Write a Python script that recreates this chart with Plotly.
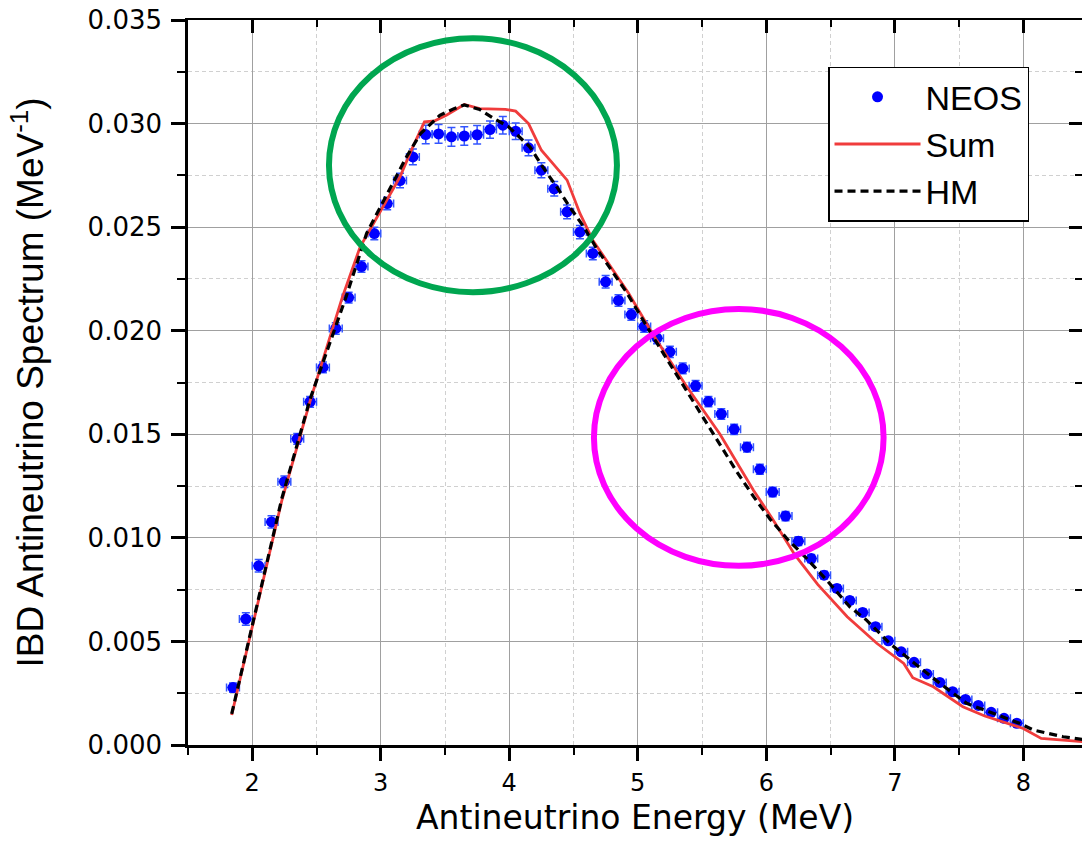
import plotly.graph_objects as go

# ---------------- data ----------------
neos_e = [1.85, 1.95, 2.05, 2.15, 2.25, 2.35, 2.45, 2.55, 2.65, 2.75,
          2.85, 2.95, 3.05, 3.15, 3.25, 3.35, 3.45, 3.55, 3.65, 3.75,
          3.85, 3.95, 4.05, 4.15, 4.25, 4.35, 4.45, 4.55, 4.65, 4.75,
          4.85, 4.95, 5.05, 5.15, 5.25, 5.35, 5.45, 5.55, 5.65, 5.75,
          5.85, 5.95, 6.05, 6.15, 6.25, 6.35, 6.45, 6.55, 6.65, 6.75,
          6.85, 6.95, 7.05, 7.15, 7.25, 7.35, 7.45, 7.55, 7.65, 7.75,
          7.85, 7.95]
neos_y = [0.00277, 0.00608, 0.00865, 0.01077, 0.01271, 0.01478, 0.01657, 0.01823, 0.02011, 0.02160,
          0.02310, 0.02469, 0.02614, 0.02725, 0.02839, 0.02947, 0.02950, 0.02936, 0.02940, 0.02946,
          0.02971, 0.02992, 0.02963, 0.02883, 0.02775, 0.02685, 0.02574, 0.02476, 0.02373, 0.02236,
          0.02146, 0.02078, 0.02020, 0.01964, 0.01898, 0.01818, 0.01734, 0.01658, 0.01598, 0.01524,
          0.01438, 0.01331, 0.01221, 0.01105, 0.00984, 0.00900, 0.00820, 0.00756, 0.00697, 0.00640,
          0.00571, 0.00503, 0.00450, 0.00399, 0.00343, 0.00302, 0.00257, 0.00220, 0.00191, 0.00158,
          0.00129, 0.00105]
neos_yerr = [0.00022, 0.00030, 0.00030, 0.00030, 0.00028, 0.00026, 0.00026, 0.00026, 0.00028, 0.00026,
             0.00028, 0.00030, 0.00030, 0.00035, 0.00038, 0.00045, 0.00045, 0.00045, 0.00045, 0.00045,
             0.00042, 0.00042, 0.00040, 0.00038, 0.00036, 0.00035, 0.00033, 0.00032, 0.00030, 0.00030,
             0.00028, 0.00028, 0.00028, 0.00027, 0.00027, 0.00026, 0.00026, 0.00025, 0.00025, 0.00025,
             0.00024, 0.00024, 0.00023, 0.00022, 0.00021, 0.00020, 0.00019, 0.00018, 0.00017, 0.00016,
             0.00015, 0.00014, 0.00013, 0.00012, 0.00011, 0.00010, 0.00010, 0.00009, 0.00009, 0.00008,
             0.00008, 0.00008]
neos_xerr = 0.05

sum_e = [1.84, 2.23, 2.45, 2.70, 2.84, 2.99, 3.15, 3.25, 3.34, 3.42, 3.51, 3.65, 3.77, 3.97,
         4.05, 4.15, 4.25, 4.34, 4.45, 4.55, 4.65, 4.93, 5.11, 5.37, 5.64, 5.90, 6.05, 6.17,
         6.22, 6.40, 6.63, 6.86, 7.07, 7.14, 7.30, 7.53, 7.70, 8.00, 8.14, 8.46]
sum_y = [0.00145, 0.01180, 0.01660, 0.02160, 0.02405, 0.02570, 0.02743, 0.02888, 0.03008, 0.03013,
         0.03040, 0.03092, 0.03072, 0.03069, 0.03060, 0.03000, 0.02871, 0.02807, 0.02727, 0.02566,
         0.02437, 0.02180, 0.01990, 0.01740, 0.01500, 0.01230, 0.01090, 0.00970, 0.00920, 0.00775,
         0.00619, 0.00491, 0.00394, 0.00325, 0.00281, 0.00185, 0.00140, 0.00080, 0.00032, 0.00016]

hm_e = [1.84, 2.23, 2.45, 2.73, 2.89, 3.05, 3.20, 3.31, 3.46, 3.57, 3.65, 3.77, 3.88, 3.99,
        4.08, 4.16, 4.26, 4.37, 4.47, 4.58, 4.68, 4.81, 4.91, 5.11, 5.24, 5.37, 5.50, 5.64,
        5.77, 5.90, 6.03, 6.17, 6.30, 6.47, 6.65, 6.78, 6.96, 7.17, 7.35, 7.56, 7.77, 7.97,
        8.08, 8.31, 8.46]
hm_y = [0.00150, 0.01190, 0.01670, 0.02163, 0.02470, 0.02662, 0.02839, 0.02952, 0.03040, 0.03072,
        0.03090, 0.03068, 0.03024, 0.02987, 0.02936, 0.02888, 0.02791, 0.02694, 0.02598, 0.02501,
        0.02397, 0.02276, 0.02188, 0.01980, 0.01850, 0.01720, 0.01590, 0.01450, 0.01320, 0.01200,
        0.01090, 0.00990, 0.00910, 0.00796, 0.00667, 0.00603, 0.00491, 0.00386, 0.00298, 0.00201,
        0.00153, 0.00105, 0.00072, 0.00040, 0.00027]

x_range = [1.5, 8.457]
y_range = [0.0, 0.035]
x_ticks = [2, 3, 4, 5, 6, 7, 8]
y_ticks = [0.000, 0.005, 0.010, 0.015, 0.020, 0.025, 0.030, 0.035]

x_title = "Antineutrino Energy (MeV)"
y_title = "IBD Antineutrino Spectrum (MeV<sup>-1</sup>)"

# highlight ellipses (data units)
green_ellipse = dict(x0=2.597, x1=4.838, y0=0.02186, y1=0.03412)
magenta_ellipse = dict(x0=4.659, x1=6.913, y0=0.00865, y1=0.02105)

# ---------------- figure ----------------
fig = go.Figure()

fig.add_trace(go.Scatter(
    x=neos_e, y=neos_y, mode="markers", name="NEOS",
    marker=dict(color="#0000FF", size=11, symbol="circle"),
    error_y=dict(type="data", array=neos_yerr, color="#3355FF", thickness=1.5, width=4),
    error_x=dict(type="constant", value=neos_xerr, color="#3355FF", thickness=1.5, width=4),
))
fig.add_trace(go.Scatter(
    x=sum_e, y=sum_y, mode="lines", name="Sum",
    line=dict(color="#F03C3C", width=2.8),
))
fig.add_trace(go.Scatter(
    x=hm_e, y=hm_y, mode="lines", name="HM",
    line=dict(color="#000000", width=3.2, dash="8px,5px"),
))
# dummy trace to activate mirror axes (top / right)
fig.add_trace(go.Scatter(x=[None], y=[None], xaxis="x2", yaxis="y2",
                         showlegend=False, hoverinfo="skip"))

for e, c in ((green_ellipse, "#00A650"), (magenta_ellipse, "#FF00FF")):
    fig.add_shape(type="circle", xref="x", yref="y", line=dict(color=c, width=6),
                  fillcolor="rgba(0,0,0,0)", layer="above", **e)

# x-axis title as annotation (placed closer to the tick labels than Plotly allows)
fig.add_annotation(text=x_title, xref="paper", yref="paper", x=0.5, y=-0.1,
                   xanchor="center", yanchor="middle", showarrow=False,
                   font=dict(family="DejaVu Sans", size=33, color="black"))

tick_font_x = dict(family="DejaVu Sans", size=24, color="black")
tick_font_y = dict(family="DejaVu Sans", size=26, color="black")

fig.update_layout(
    width=1082, height=842,
    margin=dict(l=188, r=0, t=20, b=97),
    paper_bgcolor="white", plot_bgcolor="white",
    showlegend=True,
    legend=dict(
        x=0.7159, y=0.9356, xanchor="left", yanchor="top",
        bgcolor="white", bordercolor="black", borderwidth=1.5,
        font=dict(family="Liberation Sans, Arial", size=34, color="black"),
        itemwidth=86, tracegroupgap=0,
    ),
    xaxis=dict(
        range=x_range, tickvals=x_ticks, ticktext=[str(v) for v in x_ticks],
        showline=True, linecolor="black", linewidth=2.5,
        ticks="outside", ticklen=13, tickwidth=2.5, tickcolor="black",
        tickfont=tick_font_x, ticklabelstandoff=1,
        showgrid=True, gridcolor="#A0A0A0", gridwidth=1, zeroline=False,
        minor=dict(dtick=0.5, tick0=0, ticks="outside", ticklen=7, tickwidth=2, tickcolor="black",
                   showgrid=True, gridcolor="#D0D0D0", gridwidth=1, griddash="4px,3px"),
    ),
    yaxis=dict(
        range=y_range, tickvals=y_ticks, tickformat=".3f",
        showline=True, linecolor="black", linewidth=2.5,
        ticks="outside", ticklen=14, tickwidth=2.5, tickcolor="black",
        tickfont=tick_font_y, ticklabelstandoff=4,
        showgrid=True, gridcolor="#A0A0A0", gridwidth=1, zeroline=False,
        minor=dict(dtick=0.0025, tick0=0, ticks="outside", ticklen=8, tickwidth=2, tickcolor="black",
                   showgrid=True, gridcolor="#D0D0D0", gridwidth=1, griddash="4px,3px"),
        title=dict(text=y_title,
                   font=dict(family="Liberation Sans, Arial", size=37, color="black"), standoff=33),
    ),
    xaxis2=dict(
        matches="x", overlaying="x", side="top", anchor="y",
        showline=True, linecolor="black", linewidth=2,
        tickvals=x_ticks, ticks="inside", ticklen=13, tickwidth=2.5, tickcolor="black",
        showticklabels=False, showgrid=False, zeroline=False,
        minor=dict(dtick=0.5, tick0=0, ticks="inside", ticklen=7, tickwidth=2, tickcolor="black",
                   showgrid=False),
    ),
    yaxis2=dict(
        matches="y", overlaying="y", side="right", anchor="x",
        showline=False,
        tickvals=y_ticks, ticks="inside", ticklen=13, tickwidth=2.5, tickcolor="black",
        showticklabels=False, showgrid=False, zeroline=False,
        minor=dict(dtick=0.0025, tick0=0, ticks="inside", ticklen=7, tickwidth=2, tickcolor="black",
                   showgrid=False),
    ),
)

fig.write_html("out.html")
